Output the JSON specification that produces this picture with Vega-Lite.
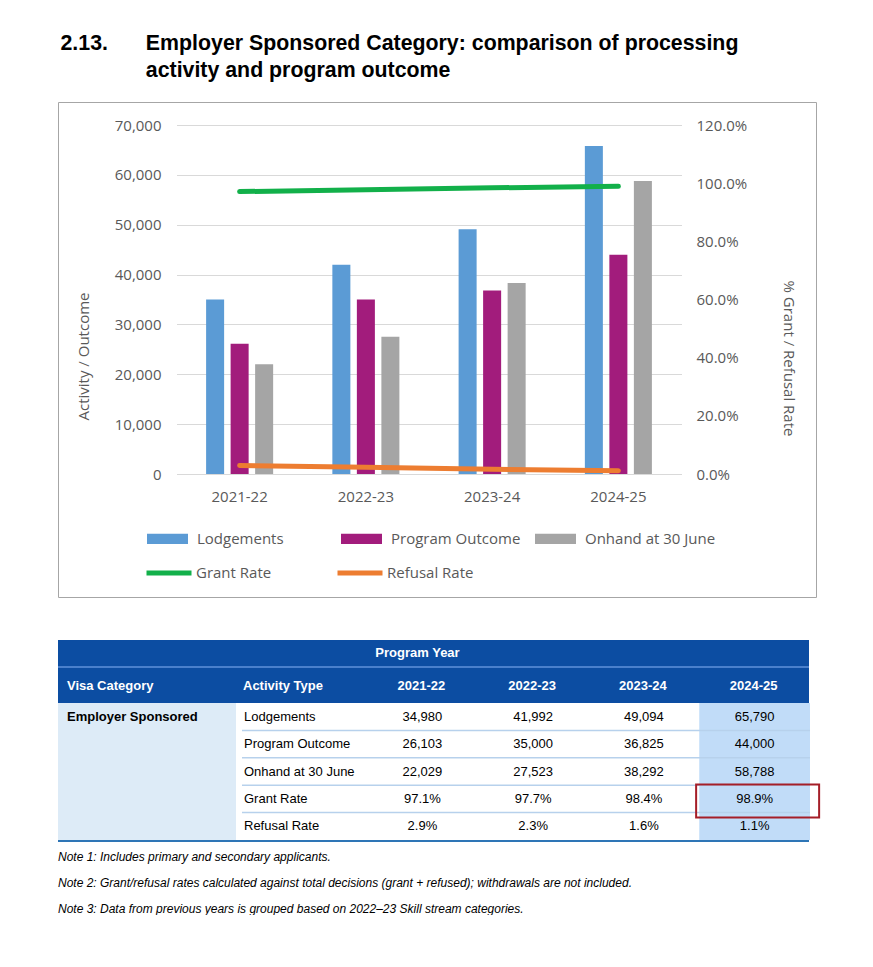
{
  "$schema": "https://vega.github.io/schema/vega-lite/v6.json",
  "background": "white",
  "padding": {"left": 57, "top": 33, "right": 0, "bottom": 0},
  "title": {
    "text": ["2.13.\u2003\u2002 Employer Sponsored Category: comparison of processing", "\u200B\u2003\u2003\u2003\u2003activity and program outcome"],
    "anchor": "start", "font": "Liberation Sans", "fontSize": 21.33, "fontWeight": "bold", "color": "#000000",
    "lineHeight": 27, "dx": 3, "offset": 20
  },
  "datasets": {
    "bars": [
      {"year": "2021-22", "series": "Lodgements", "value": 34980},
      {"year": "2022-23", "series": "Lodgements", "value": 41992},
      {"year": "2023-24", "series": "Lodgements", "value": 49094},
      {"year": "2024-25", "series": "Lodgements", "value": 65790},
      {"year": "2021-22", "series": "Program Outcome", "value": 26103},
      {"year": "2022-23", "series": "Program Outcome", "value": 35000},
      {"year": "2023-24", "series": "Program Outcome", "value": 36825},
      {"year": "2024-25", "series": "Program Outcome", "value": 44000},
      {"year": "2021-22", "series": "Onhand at 30 June", "value": 22029},
      {"year": "2022-23", "series": "Onhand at 30 June", "value": 27523},
      {"year": "2023-24", "series": "Onhand at 30 June", "value": 38292},
      {"year": "2024-25", "series": "Onhand at 30 June", "value": 58788}
    ],
    "rates": [
      {"year": "2021-22", "series": "Grant Rate", "rate": 0.971},
      {"year": "2022-23", "series": "Grant Rate", "rate": 0.977},
      {"year": "2023-24", "series": "Grant Rate", "rate": 0.984},
      {"year": "2024-25", "series": "Grant Rate", "rate": 0.989},
      {"year": "2021-22", "series": "Refusal Rate", "rate": 0.029},
      {"year": "2022-23", "series": "Refusal Rate", "rate": 0.023},
      {"year": "2023-24", "series": "Refusal Rate", "rate": 0.016},
      {"year": "2024-25", "series": "Refusal Rate", "rate": 0.011}
    ],
    "cells": [
      {"activity": "Lodgements", "year": "2021-22", "label": "34,980"},
      {"activity": "Lodgements", "year": "2022-23", "label": "41,992"},
      {"activity": "Lodgements", "year": "2023-24", "label": "49,094"},
      {"activity": "Lodgements", "year": "2024-25", "label": "65,790"},
      {"activity": "Program Outcome", "year": "2021-22", "label": "26,103"},
      {"activity": "Program Outcome", "year": "2022-23", "label": "35,000"},
      {"activity": "Program Outcome", "year": "2023-24", "label": "36,825"},
      {"activity": "Program Outcome", "year": "2024-25", "label": "44,000"},
      {"activity": "Onhand at 30 June", "year": "2021-22", "label": "22,029"},
      {"activity": "Onhand at 30 June", "year": "2022-23", "label": "27,523"},
      {"activity": "Onhand at 30 June", "year": "2023-24", "label": "38,292"},
      {"activity": "Onhand at 30 June", "year": "2024-25", "label": "58,788"},
      {"activity": "Grant Rate", "year": "2021-22", "label": "97.1%"},
      {"activity": "Grant Rate", "year": "2022-23", "label": "97.7%"},
      {"activity": "Grant Rate", "year": "2023-24", "label": "98.4%"},
      {"activity": "Grant Rate", "year": "2024-25", "label": "98.9%"},
      {"activity": "Refusal Rate", "year": "2021-22", "label": "2.9%"},
      {"activity": "Refusal Rate", "year": "2022-23", "label": "2.3%"},
      {"activity": "Refusal Rate", "year": "2023-24", "label": "1.6%"},
      {"activity": "Refusal Rate", "year": "2024-25", "label": "1.1%"}
    ],
    "activities": [
      {"activity": "Lodgements"},
      {"activity": "Program Outcome"},
      {"activity": "Onhand at 30 June"},
      {"activity": "Grant Rate"},
      {"activity": "Refusal Rate"}
    ]
  },
  "spacing": 42,
  "vconcat": [
    {
      "width": 758,
      "height": 495,
      "view": {"stroke": "#A6A6A6", "strokeWidth": 1, "fill": "white"},
      "layer": [
        {
          "data": {"name": "bars"},
          "mark": {"type": "bar"},
          "encoding": {
            "x": {
              "field": "year", "type": "nominal", "title": null,
              "scale": {"range": [118.5, 623.5], "paddingInner": 0.469, "paddingOuter": 0.2345},
              "axis": {"offset": -123, "labelPadding": 15, "labelAngle": 0, "grid": false, "domain": false, "ticks": false}
            },
            "xOffset": {
              "field": "series", "type": "nominal",
              "sort": ["Lodgements", "Program Outcome", "Onhand at 30 June"],
              "scale": {"paddingInner": 0.265, "paddingOuter": 0}
            },
            "y": {
              "field": "value", "type": "quantitative", "title": "Activity / Outcome",
              "scale": {"domain": [0, 70000], "range": [372, 23], "nice": false, "zero": true},
              "axis": {
                "offset": -118, "values": [0, 10000, 20000, 30000, 40000, 50000, 60000, 70000], "format": ",.0f",
                "grid": true, "gridColor": "#D9D9D9", "gridWidth": 1, "labelPadding": 15,
                "titleX": -93, "titleY": 254, "titleAngle": -90, "titleBaseline": "middle", "titleAlign": "center"
              }
            },
            "fill": {
              "field": "series", "type": "nominal",
              "scale": {"domain": ["Lodgements", "Program Outcome", "Onhand at 30 June"], "range": ["#5B9BD5", "#A21C7C", "#A5A5A5"]},
              "legend": {
                "title": null, "orient": "none", "legendX": 89, "legendY": 416, "direction": "horizontal",
                "columns": 3, "gridAlign": "all", "columnPadding": 13, "padding": 0,
                "symbolType": "M-1,-0.25L1,-0.25L1,0.25L-1,0.25Z", "symbolSize": 1681, "symbolStrokeWidth": 0,
                "labelOffset": 9, "labelFontSize": 15, "labelFont": "Open Sans", "labelColor": "#595959"
              }
            }
          }
        },
        {
          "data": {"name": "rates"},
          "mark": {"type": "line", "strokeWidth": 5, "strokeCap": "round", "strokeJoin": "round"},
          "encoding": {
            "x": {"field": "year", "type": "nominal", "title": null},
            "y": {
              "field": "rate", "type": "quantitative", "title": "% Grant / Refusal Rate",
              "scale": {"domain": [0, 1.2], "range": [372, 23], "nice": false},
              "axis": {
                "orient": "right", "offset": -134, "values": [0, 0.2, 0.4, 0.6, 0.8, 1, 1.2], "format": ".1%",
                "grid": false, "labelPadding": 14,
                "titleX": 106, "titleY": 256, "titleAngle": 90, "titleBaseline": "middle", "titleAlign": "center"
              }
            },
            "stroke": {
              "field": "series", "type": "nominal",
              "scale": {"domain": ["Grant Rate", "Refusal Rate"], "range": ["#12B04A", "#ED7D31"]},
              "legend": {
                "title": null, "orient": "none", "legendX": 86, "legendY": 446, "direction": "horizontal",
                "columns": 2, "gridAlign": "all", "columnPadding": 44, "padding": 0,
                "symbolType": "stroke", "symbolSize": 2025, "symbolStrokeWidth": 5,
                "labelOffset": 2, "labelFontSize": 15, "labelFont": "Open Sans", "labelColor": "#595959"
              }
            }
          }
        }
      ],
      "resolve": {"scale": {"y": "independent"}}
    },
    {
      "spacing": 0,
      "title": {
        "text": [
          "Note 1: Includes primary and secondary applicants.",
          "Note 2: Grant/refusal rates calculated against total decisions (grant + refused); withdrawals are not included.",
          "Note 3: Data from previous years is grouped based on 2022\u201323 Skill stream categories."
        ],
        "orient": "bottom", "anchor": "start", "font": "Liberation Sans", "fontStyle": "italic",
        "fontSize": 12, "fontWeight": "normal", "color": "#000000", "lineHeight": 26, "offset": 10
      },
      "vconcat": [
        {
          "width": 751, "height": 26,
          "view": {"fill": "#0C4DA2", "stroke": null},
          "data": {"values": [{"t": "Program Year"}]},
          "mark": {"type": "text", "color": "white", "fontWeight": "bold", "fontSize": 13, "font": "Liberation Sans", "dx": -16},
          "encoding": {"text": {"field": "t"}}
        },
        {
          "width": 751, "height": 2,
          "view": {"fill": "#4A80CC", "stroke": null},
          "data": {"values": [{"t": ""}]},
          "mark": {"type": "text", "fontSize": 1},
          "encoding": {"text": {"field": "t"}}
        },
        {
          "spacing": 0,
          "bounds": "flush",
          "hconcat": [
            {
              "width": 183, "height": 35,
              "view": {"fill": "#0C4DA2", "stroke": null},
              "data": {"values": [{"t": "Visa Category"}]},
              "mark": {"type": "text", "align": "left", "dx": 9, "color": "white", "fontWeight": "bold", "fontSize": 13, "font": "Liberation Sans"},
              "encoding": {
                "x": {"field": "t", "type": "nominal", "bandPosition": 0, "scale": {"type": "band", "paddingInner": 0, "paddingOuter": 0}, "axis": null},
                "text": {"field": "t"}
              }
            },
            {
              "width": 125, "height": 35,
              "view": {"fill": "#0C4DA2", "stroke": null},
              "data": {"values": [{"t": "Activity Type"}]},
              "mark": {"type": "text", "align": "left", "dx": 2, "color": "white", "fontWeight": "bold", "fontSize": 13, "font": "Liberation Sans"},
              "encoding": {
                "x": {"field": "t", "type": "nominal", "bandPosition": 0, "scale": {"type": "band", "paddingInner": 0, "paddingOuter": 0}, "axis": null},
                "text": {"field": "t"}
              }
            },
            {
              "width": 443, "height": 35,
              "view": {"fill": "#0C4DA2", "stroke": null},
              "data": {"values": [{"t": "2021-22"}, {"t": "2022-23"}, {"t": "2023-24"}, {"t": "2024-25"}]},
              "mark": {"type": "text", "color": "white", "fontWeight": "bold", "fontSize": 13, "font": "Liberation Sans"},
              "encoding": {
                "x": {"field": "t", "type": "nominal", "scale": {"type": "band", "paddingInner": 0, "paddingOuter": 0}, "axis": null},
                "text": {"field": "t"}
              }
            }
          ]
        },
        {
          "spacing": 5,
          "hconcat": [
            {
              "width": 178, "height": 137,
              "view": {"fill": "#DDEBF7", "stroke": null},
              "data": {"values": [{"category": "Employer Sponsored", "activity": "Lodgements"}]},
              "mark": {"type": "text", "align": "left", "dx": 9, "color": "#000000", "fontWeight": "bold", "fontSize": 13, "font": "Liberation Sans"},
              "encoding": {
                "x": {"field": "category", "type": "nominal", "bandPosition": 0, "scale": {"type": "band", "paddingInner": 0, "paddingOuter": 0}, "axis": null},
                "y": {"field": "activity", "type": "nominal", "scale": {"type": "band", "domain": ["Lodgements", "Program Outcome", "Onhand at 30 June", "Grant Rate", "Refusal Rate"], "paddingInner": 0, "paddingOuter": 0}, "axis": null},
                "text": {"field": "category"}
              }
            },
            {
              "spacing": 0,
              "bounds": "flush",
              "hconcat": [
                {
                  "width": 125, "height": 137,
                  "data": {"name": "activities"},
                  "encoding": {
                    "y": {"field": "activity", "type": "nominal", "scale": {"type": "band", "domain": ["Lodgements", "Program Outcome", "Onhand at 30 June", "Grant Rate", "Refusal Rate"], "paddingInner": 0, "paddingOuter": 0}, "axis": null}
                  },
                  "layer": [
                    {
                      "transform": [{"filter": "datum.activity != 'Lodgements'"}],
                      "mark": {"type": "rule", "color": "#B7D1EC", "strokeWidth": 1.5},
                      "encoding": {"y": {"field": "activity", "type": "nominal", "bandPosition": 0}}
                    },
                    {
                      "mark": {"type": "text", "align": "left", "dx": 2, "color": "#000000", "fontSize": 13, "font": "Liberation Sans"},
                      "encoding": {
                        "x": {"datum": "a", "type": "nominal", "bandPosition": 0, "scale": {"type": "band", "paddingInner": 0, "paddingOuter": 0}, "axis": null},
                        "text": {"field": "activity"}
                      }
                    }
                  ]
                },
                {
                  "width": 443, "height": 137,
                  "data": {"name": "cells"},
                  "encoding": {
                    "x": {"field": "year", "type": "nominal", "scale": {"type": "band", "domain": ["2021-22", "2022-23", "2023-24", "2024-25"], "paddingInner": 0, "paddingOuter": 0}, "axis": null},
                    "y": {"field": "activity", "type": "nominal", "scale": {"type": "band", "domain": ["Lodgements", "Program Outcome", "Onhand at 30 June", "Grant Rate", "Refusal Rate"], "paddingInner": 0, "paddingOuter": 0}, "axis": null}
                  },
                  "layer": [
                    {
                      "transform": [{"filter": "datum.year == '2024-25'"}],
                      "mark": {"type": "rect", "color": "#C1DCF8"}
                    },
                    {
                      "transform": [{"filter": "datum.year == '2024-25' && datum.activity != 'Lodgements'"}],
                      "mark": {"type": "rule", "color": "#B7D1EC", "strokeWidth": 1.5},
                      "encoding": {"x": null, "y": {"field": "activity", "type": "nominal", "bandPosition": 0}}
                    },
                    {
                      "mark": {"type": "text", "color": "#000000", "fontSize": 13, "font": "Liberation Sans"},
                      "encoding": {"text": {"field": "label"}}
                    },
                    {
                      "transform": [{"filter": "datum.year == '2024-25' && datum.activity == 'Grant Rate'"}],
                      "mark": {"type": "rect", "fill": null, "filled": false, "stroke": "#A51E28", "strokeWidth": 2, "width": 123, "height": 33, "xOffset": 3, "yOffset": 2}
                    }
                  ]
                }
              ]
            }
          ]
        },
        {
          "width": 751, "height": 2,
          "view": {"fill": "#2E75B6", "stroke": null},
          "data": {"values": [{"t": ""}]},
          "mark": {"type": "text", "fontSize": 1},
          "encoding": {"text": {"field": "t"}}
        }
      ]
    }
  ],
  "config": {
    "view": {"stroke": null},
    "axis": {
      "labelFont": "Open Sans", "titleFont": "Open Sans", "labelFontSize": 15, "titleFontSize": 15,
      "labelColor": "#595959", "titleColor": "#595959", "titleFontWeight": "normal", "ticks": false, "domain": false
    },
    "legend": {"labelFont": "Open Sans", "labelFontSize": 15, "labelColor": "#595959"}
  }
}
